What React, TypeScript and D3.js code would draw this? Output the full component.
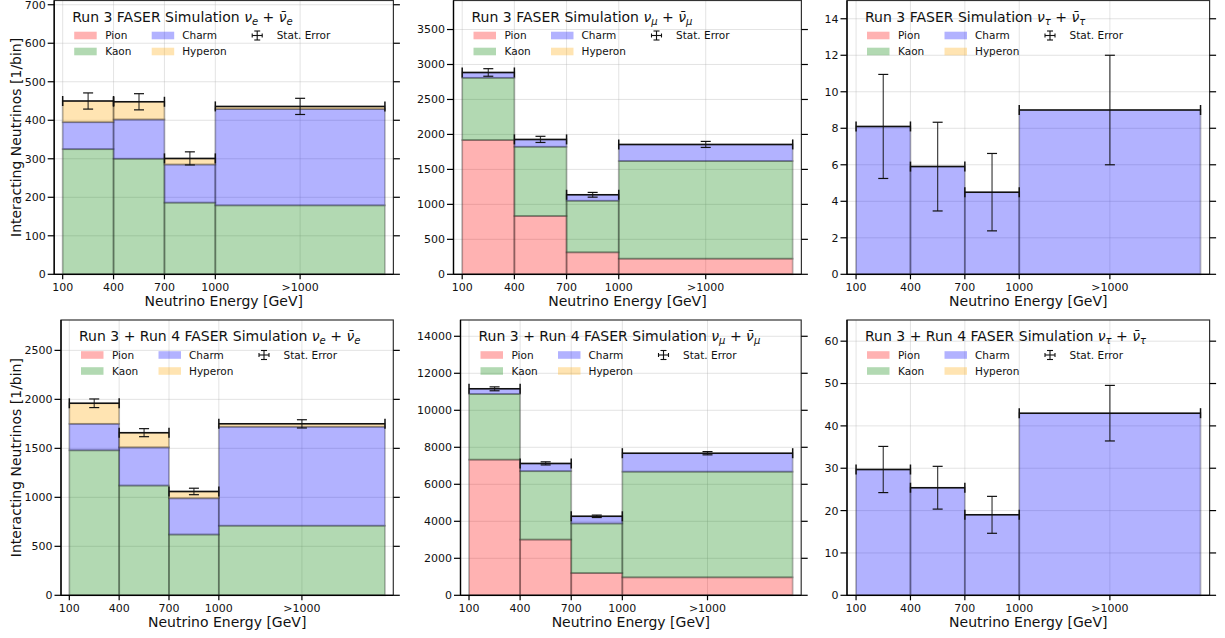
import React from 'react';
import * as d3 from 'd3';

// ---------- shared axis data ----------
const binEdges = [100, 400, 700, 1000, 2000];
const xTickValues = [100, 400, 700, 1000, 1500];
const xTickLabels = ['100', '400', '700', '1000', '>1000'];
const xDomain = [50, 2050];

const sourceNames = ['Pion', 'Kaon', 'Charm', 'Hyperon'];
const sourceColors = ['#ff0000', '#008000', '#0000ff', '#ffa500'];

// ---------- Run 3, nu_e ----------
const nueR3Pion = [0, 0, 0, 0];
const nueR3Kaon = [325, 300, 186, 179];
const nueR3Charm = [70, 102, 99, 250];
const nueR3Hyperon = [55, 46, 16, 7];
const nueR3Err = [21, 21, 17, 21];
const nueR3Ticks = [0, 100, 200, 300, 400, 500, 600, 700];

// ---------- Run 3, nu_mu ----------
const numuR3Pion = [1919, 833, 314, 223];
const numuR3Kaon = [890, 990, 737, 1396];
const numuR3Charm = [77, 106, 86, 238];
const numuR3Hyperon = [0, 0, 0, 0];
const numuR3Err = [54, 44, 34, 43];
const numuR3Ticks = [0, 500, 1000, 1500, 2000, 2500, 3000, 3500];

// ---------- Run 3, nu_tau ----------
const nutauR3Pion = [0, 0, 0, 0];
const nutauR3Kaon = [0, 0, 0, 0];
const nutauR3Charm = [8.1, 5.9, 4.5, 9.0];
const nutauR3Hyperon = [0, 0, 0, 0];
const nutauR3Err = [2.85, 2.43, 2.12, 3.0];
const nutauR3Ticks = [0, 2, 4, 6, 8, 10, 12, 14];

// ---------- Run 3 + Run 4, nu_e ----------
const nueR34Pion = [0, 0, 0, 0];
const nueR34Kaon = [1480, 1120, 620, 710];
const nueR34Charm = [270, 390, 370, 1010];
const nueR34Hyperon = [210, 150, 70, 30];
const nueR34Err = [44, 41, 33, 42];
const nueR34Ticks = [0, 500, 1000, 1500, 2000, 2500];

// ---------- Run 3 + Run 4, nu_mu ----------
const numuR34Pion = [7330, 3010, 1200, 970];
const numuR34Kaon = [3550, 3700, 2680, 5710];
const numuR34Charm = [280, 420, 390, 1000];
const numuR34Hyperon = [0, 0, 0, 0];
const numuR34Err = [106, 84, 65, 88];
const numuR34Ticks = [0, 2000, 4000, 6000, 8000, 10000, 12000, 14000];

// ---------- Run 3 + Run 4, nu_tau ----------
const nutauR34Pion = [0, 0, 0, 0];
const nutauR34Kaon = [0, 0, 0, 0];
const nutauR34Charm = [29.7, 25.4, 19.0, 43.0];
const nutauR34Hyperon = [0, 0, 0, 0];
const nutauR34Err = [5.45, 5.05, 4.36, 6.56];
const nutauR34Ticks = [0, 10, 20, 30, 40, 50, 60];

const FONT = 'DejaVu Sans';

type Panel = {
  run: string;
  flavor: string;
  series: number[][];
  err: number[];
  yMax: number;
  yTicks: number[];
  x0: number;
  x1: number;
  y0: number;
  y1: number;
  showYLabel: boolean;
};

const TOP = [0.5, 274.3];
const BOT = [320, 595.3];

const panels: Panel[] = [
  { run: 'Run 3', flavor: 'e', series: [nueR3Pion, nueR3Kaon, nueR3Charm, nueR3Hyperon], err: nueR3Err, yMax: 711, yTicks: nueR3Ticks, x0: 54.2, x1: 393.4, y0: TOP[0], y1: TOP[1], showYLabel: true },
  { run: 'Run 3', flavor: 'μ', series: [numuR3Pion, numuR3Kaon, numuR3Charm, numuR3Hyperon], err: numuR3Err, yMax: 3915, yTicks: numuR3Ticks, x0: 453.5, x1: 801.4, y0: TOP[0], y1: TOP[1], showYLabel: false },
  { run: 'Run 3', flavor: 'τ', series: [nutauR3Pion, nutauR3Kaon, nutauR3Charm, nutauR3Hyperon], err: nutauR3Err, yMax: 15, yTicks: nutauR3Ticks, x0: 847, x1: 1209.6, y0: TOP[0], y1: TOP[1], showYLabel: false },
  { run: 'Run 3 + Run 4', flavor: 'e', series: [nueR34Pion, nueR34Kaon, nueR34Charm, nueR34Hyperon], err: nueR34Err, yMax: 2810, yTicks: nueR34Ticks, x0: 61, x1: 393.3, y0: BOT[0], y1: BOT[1], showYLabel: true },
  { run: 'Run 3 + Run 4', flavor: 'μ', series: [numuR34Pion, numuR34Kaon, numuR34Charm, numuR34Hyperon], err: numuR34Err, yMax: 14880, yTicks: numuR34Ticks, x0: 460.5, x1: 801.2, y0: BOT[0], y1: BOT[1], showYLabel: false },
  { run: 'Run 3 + Run 4', flavor: 'τ', series: [nutauR34Pion, nutauR34Kaon, nutauR34Charm, nutauR34Hyperon], err: nutauR34Err, yMax: 65, yTicks: nutauR34Ticks, x0: 847, x1: 1209.6, y0: BOT[0], y1: BOT[1], showYLabel: false },
];

function PanelView({ p }: { p: Panel }) {
  const x = d3.scaleLinear().domain(xDomain).range([p.x0, p.x1]);
  const y = d3.scaleLinear().domain([0, p.yMax]).range([p.y1, p.y0]);
  const nBins = binEdges.length - 1;
  const stacked = d3.stack<number>().keys(d3.range(4) as any).value((i: number, k: any) => p.series[k][i])(d3.range(nBins));
  const totals = d3.range(nBins).map((i) => d3.sum(p.series, (s) => s[i]));
  const cap = 5;

  const rects: any[] = [];
  stacked.forEach((layer, k) => {
    layer.forEach((seg, i) => {
      if (seg[1] - seg[0] <= 0) return;
      rects.push(
        <rect
          key={`r${k}-${i}`}
          x={x(binEdges[i])}
          width={x(binEdges[i + 1]) - x(binEdges[i])}
          y={y(seg[1])}
          height={y(seg[0]) - y(seg[1])}
          fill={sourceColors[k]}
          fillOpacity={0.3}
          stroke="#000"
          strokeOpacity={0.25}
          strokeWidth={1.8}
        />
      );
    });
  });

  const cx = (p.x0 + p.x1) / 2;
  const cy = (p.y0 + p.y1) / 2;
  const lx = p.x0;
  const ty = p.y0;

  return (
    <g>
      {/* grid */}
      {xTickValues.map((v) => (
        <line key={`gx${v}`} x1={x(v)} x2={x(v)} y1={p.y0} y2={p.y1} stroke="#b0b0b0" strokeOpacity={0.35} strokeWidth={1} />
      ))}
      {p.yTicks.map((v) => (
        <line key={`gy${v}`} x1={p.x0} x2={p.x1} y1={y(v)} y2={y(v)} stroke="#b0b0b0" strokeOpacity={0.35} strokeWidth={1} />
      ))}
      {rects}
      {/* error bars */}
      {d3.range(nBins).map((i) => {
        const xa = x(binEdges[i]);
        const xb = x(binEdges[i + 1]);
        const xm = x((binEdges[i] + binEdges[i + 1]) / 2);
        const yt = y(totals[i]);
        const yu = y(totals[i] + p.err[i]);
        const yl = y(totals[i] - p.err[i]);
        return (
          <g key={`e${i}`} stroke="#111" strokeWidth={1.5}>
            <line x1={xa} x2={xb} y1={yt} y2={yt} />
            <line x1={xa} x2={xa} y1={yt - cap} y2={yt + cap} />
            <line x1={xb} x2={xb} y1={yt - cap} y2={yt + cap} />
            <line x1={xm} x2={xm} y1={yu} y2={yl} strokeOpacity={0.8} strokeWidth={1.2} />
            <line x1={xm - cap} x2={xm + cap} y1={yu} y2={yu} strokeWidth={1.2} />
            <line x1={xm - cap} x2={xm + cap} y1={yl} y2={yl} strokeWidth={1.2} />
          </g>
        );
      })}
      {/* frame */}
      <rect x={p.x0} y={p.y0} width={p.x1 - p.x0} height={p.y1 - p.y0} fill="none" stroke="#333" strokeWidth={1.2} />
      <line x1={p.x0} x2={p.x1} y1={p.y1} y2={p.y1} stroke="#000" strokeWidth={1.3} />
      <line x1={p.x0} x2={p.x0} y1={p.y0} y2={p.y1} stroke="#000" strokeWidth={1.3} />
      {/* y ticks both sides */}
      {p.yTicks.map((v) => (
        <g key={`yt${v}`}>
          <line x1={p.x0 - 6.5} x2={p.x0} y1={y(v)} y2={y(v)} stroke="#000" strokeWidth={1.2} />
          <line x1={p.x1} x2={p.x1 + 6.5} y1={y(v)} y2={y(v)} stroke="#000" strokeWidth={1.2} />
          <text x={p.x0 - 8.5} y={y(v)} dy="0.36em" textAnchor="end" fontSize={11} fontFamily={FONT} fill="#111">
            {v}
          </text>
        </g>
      ))}
      {/* x ticks */}
      {xTickValues.map((v, i) => (
        <g key={`xt${v}`}>
          <line x1={x(v)} x2={x(v)} y1={p.y1} y2={p.y1 + 5} stroke="#000" strokeWidth={1.2} />
          <text x={x(v)} y={p.y1 + 17} textAnchor="middle" fontSize={11} fontFamily={FONT} fill="#111">
            {xTickLabels[i]}
          </text>
        </g>
      ))}
      <text x={cx} y={p.y1 + 32} textAnchor="middle" fontSize={14} fontFamily={FONT} fill="#111">
        Neutrino Energy [GeV]
      </text>
      {p.showYLabel && (
        <text transform={`translate(20.5,${cy}) rotate(-90)`} textAnchor="middle" fontSize={14} fontFamily={FONT} fill="#111">
          Interacting Neutrinos [1/bin]
        </text>
      )}
      {/* title */}
      <text x={lx + 18} y={ty + 21} fontSize={14} fontFamily={FONT} fill="#111">
        <tspan>{`${p.run} FASER Simulation `}</tspan>
        <tspan fontStyle="italic">ν</tspan>
        <tspan fontStyle="italic" fontSize={10} dy={3}>{p.flavor}</tspan>
        <tspan dy={-3}>{' + '}</tspan>
        <tspan fontStyle="italic">{'ν\u0304'}</tspan>
        <tspan fontStyle="italic" fontSize={10} dy={3}>{p.flavor}</tspan>
      </text>
      {/* legend */}
      {sourceNames.map((name, k) => {
        const col = k < 2 ? 0 : 1;
        const row = k % 2;
        const px = lx + (col === 0 ? 20 : 97.5);
        const tx = lx + (col === 0 ? 51 : 128);
        const ry = ty + (row === 0 ? 35 : 51);
        return (
          <g key={`lg${k}`}>
            <rect x={px} y={ry - 3.8} width={22.5} height={7.6} fill={sourceColors[k]} fillOpacity={0.3} />
            <text x={tx} y={ry} dy="0.36em" fontSize={10.5} fontFamily={FONT} fill="#111">
              {name}
            </text>
          </g>
        );
      })}
      <g stroke="#111" strokeWidth={1.1}>
        <line x1={lx + 203} x2={lx + 203} y1={ty + 30.5} y2={ty + 39.5} />
        <line x1={lx + 200} x2={lx + 206} y1={ty + 30.5} y2={ty + 30.5} />
        <line x1={lx + 200} x2={lx + 206} y1={ty + 39.5} y2={ty + 39.5} />
        <line x1={lx + 198} x2={lx + 208} y1={ty + 35} y2={ty + 35} />
        <line x1={lx + 198} x2={lx + 198} y1={ty + 33} y2={ty + 37} />
        <line x1={lx + 208} x2={lx + 208} y1={ty + 33} y2={ty + 37} />
      </g>
      <text x={lx + 222.5} y={ty + 35} dy="0.36em" fontSize={10.5} fontFamily={FONT} fill="#111">
        Stat. Error
      </text>
    </g>
  );
}

export default function App() {
  return (
    <svg
      width={1225}
      height={638}
      style={{ position: 'absolute', left: 0, top: 0, background: '#fff' }}
      xmlns="http://www.w3.org/2000/svg"
    >
      <rect x={0} y={0} width={1225} height={638} fill="#fff" />
      {panels.map((p, i) => (
        <PanelView key={i} p={p} />
      ))}
    </svg>
  );
}
